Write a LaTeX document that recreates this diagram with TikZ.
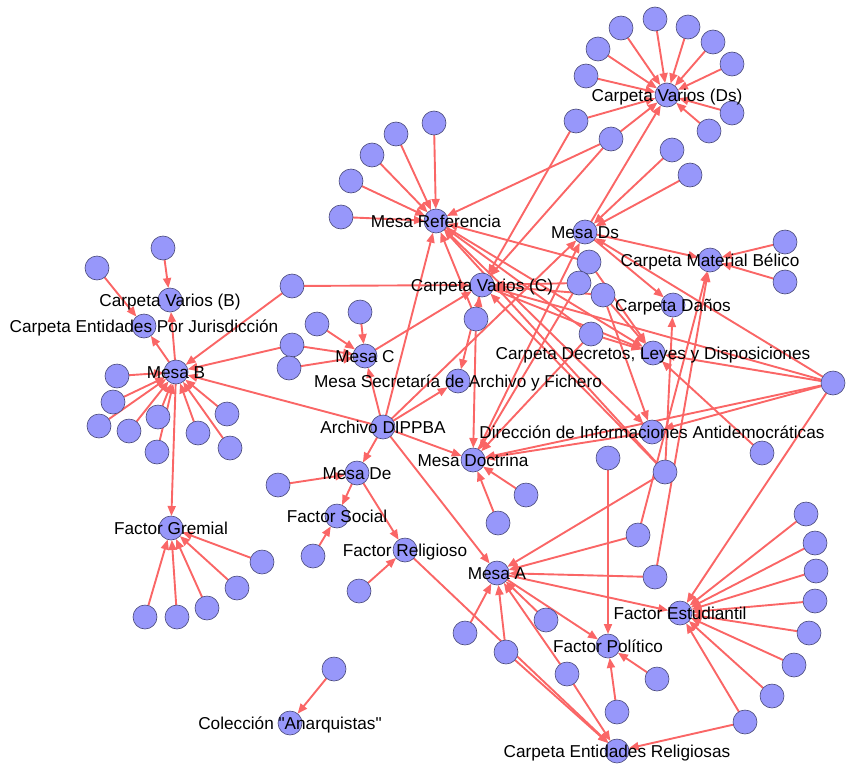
\documentclass[tikz,border=0pt]{standalone}
\usepackage{fontspec}
\setmainfont{Liberation Sans}
\usetikzlibrary{arrows.meta}
\definecolor{edgec}{RGB}{250,102,102}
\definecolor{nodef}{RGB}{151,151,250}
\definecolor{nodeb}{RGB}{72,72,120}
\pgfdeclarelayer{bg}\pgfdeclarelayer{fg}\pgfsetlayers{bg,main,fg}
\begin{document}
\begin{tikzpicture}[x=1pt,y=-1pt,
  dot/.style={circle,fill=nodef,draw=nodeb,line width=0.6pt,minimum size=24pt,inner sep=0pt,outer sep=0pt},
  lbl/.style={anchor=base,inner sep=0pt,font=\fontsize{17.2}{20}\selectfont,text=black},
  link/.style={draw=edgec,line width=1.9pt,-{Triangle[length=10pt,width=8pt]}}]
\useasboundingbox (0,0) rectangle (850,776);
% main nodes
\node[dot] (ref) at (436,221) {};
\node[dot] (cvds) at (667,95) {};
\node[dot] (mds) at (585,232) {};
\node[dot] (cmb) at (710,260) {};
\node[dot] (cvc) at (482,285) {};
\node[dot] (cd) at (673,305) {};
\node[dot] (cdld) at (653,353) {};
\node[dot] (msaf) at (458,381) {};
\node[dot] (mc) at (365,356) {};
\node[dot] (mb) at (176,372) {};
\node[dot] (cvb) at (170,300) {};
\node[dot] (cej) at (144,326) {};
\node[dot] (arch) at (383,427) {};
\node[dot] (dia) at (652,432) {};
\node[dot] (mdoc) at (473,460) {};
\node[dot] (mde) at (357,473) {};
\node[dot] (fs) at (337,516) {};
\node[dot] (fr) at (405,550) {};
\node[dot] (fg) at (171,528) {};
\node[dot] (ma) at (497,573) {};
\node[dot] (fe) at (680,613) {};
\node[dot] (fp) at (608,646) {};
\node[dot] (cer) at (617,751) {};
\node[dot] (col) at (290,723) {};
% leaves
\foreach \n/\x/\y in {d1/621/28, d2/655/19, d3/688/27, d4/713/42, d5/732/64, d6/598/49, d7/586/76, d8/732/113, d9/709/131, d10/576/121, d11/611/139,
  s1/672/150, s2/690/175, m1/785/242, m2/785/282,
  r1/434/123, r2/396/134, r3/372/155, r4/351/181, r5/341/217,
  L1/589/262, L2/579/283, L3/603/295, L4/591/334, c1/476/319, R/833/383,
  q1/762/453, q2/665/472, q3/608/458, q4/638/535, q5/655/577,
  h1/292/286, c2/360/312, c3/317/324, c4/292/345, c5/289/368,
  b1/117/376, b2/113/402, b3/99/426, b4/129/431, b5/158/417, b6/157/452, b7/198/433, b8/227/414, b9/230/448,
  v1/163/248, v2/97/268,
  g1/145/617, g2/177/617, g3/207/608, g4/237/588, g5/262/562,
  e1/278/485, e2/313/556, e3/359/591, t1/526/495, t2/498/523,
  a1/465/633, a2/506/652, a3/546/620, a4/567/674, p1/657/679, p2/617/712,
  f1/806/514, f2/815/543, f3/816/571, f4/815/601, f5/809/633, f6/794/665, f7/772/696, f8/745/722,
  k1/334/669}
  \node[dot] (\n) at (\x,\y) {};
% edges
\begin{pgfonlayer}{bg}
\foreach \a/\b in {d1/cvds, d2/cvds, d3/cvds, d4/cvds, d5/cvds, d6/cvds, d7/cvds, d8/cvds, d9/cvds, d10/cvds, d11/cvds, mds/cvds,
  d10/cvc, d11/cvc, d11/ref, s1/mds, s2/mds, m1/cmb, m2/cmb, mds/cmb, mds/cd,
  r1/ref, r2/ref, r3/ref, r4/ref, r5/ref,
  arch/ref, arch/mc, arch/mb, arch/msaf, arch/mdoc, arch/mde, arch/ma, arch/mds,
  c1/cvc, c1/ref, c1/mdoc, cvc/msaf, cvc/cdld, ref/cdld, ref/dia,
  L1/ref, L1/cdld, L2/cvc, L2/mdoc, L3/cvc, L3/dia, L3/cdld, L4/cdld, L4/ref, L4/mdoc,
  mdoc/mds, R/mds, R/cdld, R/mdoc, R/dia, R/fe, R/cvc, dia/mdoc,
  q1/cdld, q2/ma, q2/cd, q2/ref, q2/cvc, q3/fp, q4/cmb, q4/ma, q5/cmb, q5/ma,
  b1/mb, b2/mb, b3/mb, b4/mb, b5/mb, b6/mb, b7/mb, b8/mb, b9/mb, h1/mb, h1/cvc, c4/mb, c4/mc,
  mb/cvb, mb/cej, mb/fg, v1/cvb, v2/cej, c2/mc, c3/mc, c5/mc, mc/cvc,
  g1/fg, g2/fg, g3/fg, g4/fg, g5/fg,
  e1/mde, mde/fs, mde/fr, e2/fs, e3/fr, fr/cer, t1/mdoc, t2/mdoc,
  a1/ma, a2/ma, a3/ma, a4/ma, a2/cer, a4/cer, ma/fp, ma/fe, p1/fp, p2/fp,
  f1/fe, f2/fe, f3/fe, f4/fe, f5/fe, f6/fe, f7/fe, f8/fe, f8/cer, k1/col}
  \draw[link] (\a) -- (\b);
\end{pgfonlayer}
% labels
\begin{pgfonlayer}{fg}
\node[lbl] (lref) at ([yshift=-6.3pt]ref) {Mesa Referencia};
\node[lbl] (lcvds) at ([yshift=-6.3pt]cvds) {Carpeta Varios (Ds)};
\node[lbl] (lmds) at ([yshift=-6.3pt]mds) {Mesa Ds};
\node[lbl] (lcmb) at ([yshift=-6.3pt]cmb) {Carpeta Material Bélico};
\node[lbl] (lcvc) at ([yshift=-6.3pt]cvc) {Carpeta Varios (C)};
\node[lbl] (lcd) at ([yshift=-6.3pt]cd) {Carpeta Daños};
\node[lbl] (lcdld) at ([yshift=-6.3pt]cdld) {Carpeta Decretos, Leyes y Disposiciones};
\node[lbl] (lmsaf) at ([yshift=-6.3pt]msaf) {Mesa Secretaría de Archivo y Fichero};
\node[lbl] (lmc) at ([yshift=-6.3pt]mc) {Mesa C};
\node[lbl] (lmb) at ([yshift=-6.3pt]mb) {Mesa B};
\node[lbl] (lcvb) at ([yshift=-6.3pt]cvb) {Carpeta Varios (B)};
\node[lbl] (lcej) at ([yshift=-6.3pt]cej) {Carpeta Entidades Por Jurisdicción};
\node[lbl] (larch) at ([yshift=-6.3pt]arch) {Archivo DIPPBA};
\node[lbl] (ldia) at ([yshift=-6.3pt]dia) {Dirección de Informaciones Antidemocráticas};
\node[lbl] (lmdoc) at ([yshift=-6.3pt]mdoc) {Mesa Doctrina};
\node[lbl] (lmde) at ([yshift=-6.3pt]mde) {Mesa De};
\node[lbl] (lfs) at ([yshift=-6.3pt]fs) {Factor Social};
\node[lbl] (lfr) at ([yshift=-6.3pt]fr) {Factor Religioso};
\node[lbl] (lfg) at ([yshift=-6.3pt]fg) {Factor Gremial};
\node[lbl] (lma) at ([yshift=-6.3pt]ma) {Mesa A};
\node[lbl] (lfe) at ([yshift=-6.3pt]fe) {Factor Estudiantil};
\node[lbl] (lfp) at ([yshift=-6.3pt]fp) {Factor Político};
\node[lbl] (lcer) at ([yshift=-6.3pt]cer) {Carpeta Entidades Religiosas};
\node[lbl] (lcol) at ([yshift=-6.3pt]col) {Colección \textquotedbl Anarquistas\textquotedbl};
\end{pgfonlayer}
\end{tikzpicture}
\end{document}
